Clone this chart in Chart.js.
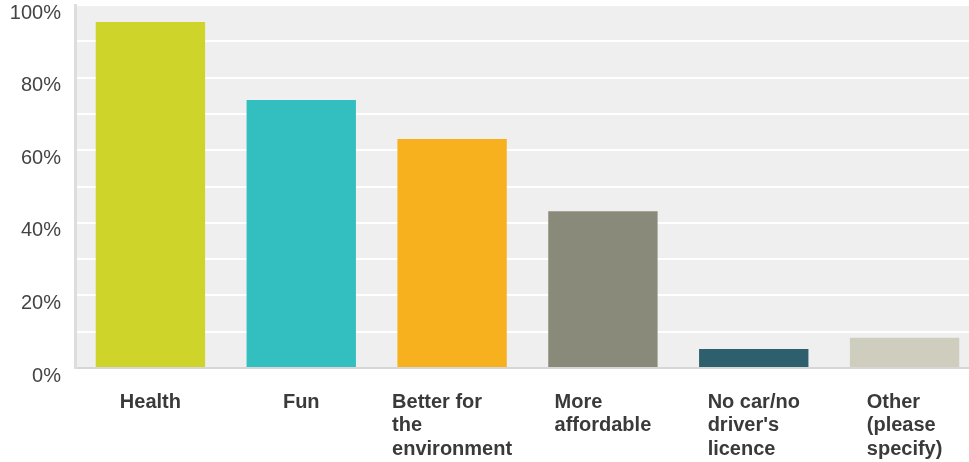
<!DOCTYPE html>
<html>
<head>
<meta charset="utf-8">
<script src="https://cdn.jsdelivr.net/npm/chart.js@4.4.1/dist/chart.umd.min.js"></script>
<style>
  html, body { margin: 0; padding: 0; background: #fff; overflow: hidden; }
  .chart-wrap { width: 980px; height: 462px; position: relative; }
</style>
</head>
<body>
<div class="chart-wrap">
  <canvas id="chart"></canvas>
</div>
<script>
const categories = [
  ['Health'],
  ['Fun'],
  ['Better for', 'the', 'environment'],
  ['More', 'affordable'],
  ['No car/no', "driver's", 'licence'],
  ['Other', '(please', 'specify)'],
];
const shares = [95.3, 73.8, 63.1, 43.2, 5.2, 8.3];
const barColors = ['#cfd42a', '#33bebf', '#f7b01e', '#8a8a7a', '#2e5f6c', '#cecdbe'];
const yTicks = [0, 20, 40, 60, 80, 100];

const FONT = '"Liberation Sans", Arial, Helvetica, sans-serif';

// grey plot background
const plotBg = {
  id: 'plotBg',
  beforeDraw(chart) {
    const { ctx, chartArea: a } = chart;
    ctx.save();
    ctx.fillStyle = '#efefef';
    ctx.fillRect(a.left, a.top, a.right - a.left, a.bottom - a.top);
    ctx.restore();
  },
};

// category labels: block centred under the bar, lines left-aligned
const blockLabels = {
  id: 'blockLabels',
  afterDraw(chart) {
    const { ctx } = chart;
    const xScale = chart.scales.x;
    const top = chart.chartArea.bottom + 34;
    ctx.save();
    ctx.font = 'bold 20px ' + FONT;
    ctx.fillStyle = '#3a3a3a';
    ctx.textBaseline = 'middle';
    ctx.textAlign = 'left';
    categories.forEach((lines, i) => {
      const w = Math.max(...lines.map(l => ctx.measureText(l).width));
      const x0 = xScale.getPixelForValue(i) - w / 2;
      lines.forEach((l, j) => ctx.fillText(l, x0, top + j * 23.5));
    });
    ctx.restore();
  },
};

new Chart(document.getElementById('chart'), {
  type: 'bar',
  data: {
    labels: categories.map(c => c.join(' ')),
    datasets: [{
      data: shares,
      backgroundColor: barColors,
      borderWidth: 0,
      categoryPercentage: 1,
      barPercentage: 0.725,
    }],
  },
  options: {
    responsive: true,
    maintainAspectRatio: false,
    animation: false,
    layout: { padding: { top: 5, right: 0, bottom: 0, left: 0 } },
    plugins: {
      legend: { display: false },
      tooltip: { enabled: false },
    },
    scales: {
      x: {
        grid: { display: false, drawTicks: false },
        border: { display: true, color: '#d6d6d6', width: 2 },
        ticks: { display: false },
        afterFit(scale) { scale.height = 94; },
      },
      y: {
        min: 0,
        max: 100,
        ticks: {
          stepSize: 10,
          padding: 14,
          labelOffset: 8,
          color: '#444',
          font: { family: FONT, size: 20 },
          callback: v => (yTicks.includes(v) ? v + '%' : ''),
        },
        grid: {
          drawTicks: false,
          lineWidth: 2,
          color: ctx => (ctx.tick && ctx.tick.value === 0 ? 'rgba(0,0,0,0)' : '#ffffff'),
        },
        border: { display: true, color: '#dddddd', width: 3 },
        afterFit(scale) {
          scale.width = 75;
          scale.paddingTop = 0;
          scale.paddingBottom = 0;
        },
      },
    },
  },
  plugins: [plotBg, blockLabels],
});
</script>
</body>
</html>
